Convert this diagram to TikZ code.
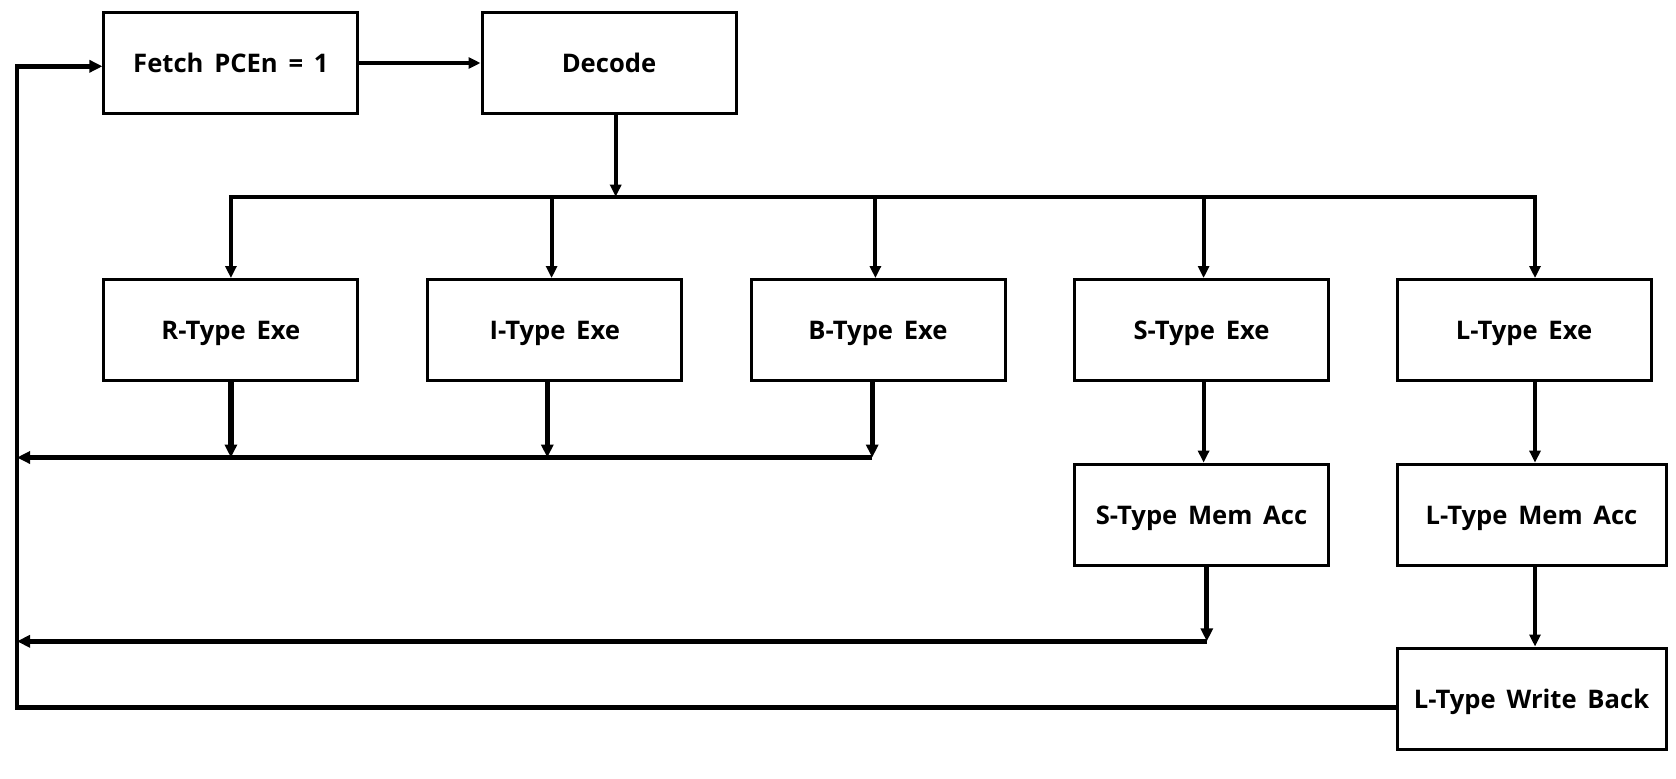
\documentclass[tikz,border=0pt]{standalone}
\usepackage{fontspec}
\setmainfont{Open Sans}[BoldFont={* Bold}]
\usetikzlibrary{arrows.meta,calc}
\newcommand{\boxfont}{\bfseries\fontsize{12.8}{15}\selectfont\spaceskip=0.42em plus 0.1em}
\begin{document}
\begin{tikzpicture}[x=0.5pt,y=-0.5pt,
  box/.style={draw,line width=1.5pt,minimum width=127pt,minimum height=50.5pt,inner sep=0pt,font=\boxfont,fill=white,text height=0.95em,text depth=0pt},
  wide/.style={box,minimum width=134.5pt},
  conn/.style={line width=2pt,-{Triangle[length=6pt,width=5.5pt]}},
  thick conn/.style={line width=2.6pt,-{Triangle[length=6.5pt,width=6pt]}},
  plain/.style={line width=2.2pt}]
\useasboundingbox (0,0) rectangle (1676,778);
% nodes
\node[box] (fetch) at (230.9,63) {Fetch PCEn = 1};
\node[box] (dec) at (609,63) {Decode};
\node[box] (r) at (230.9,330) {R-Type Exe};
\node[box] (i) at (554.8,330) {I-Type Exe};
\node[box] (b) at (878,330) {B-Type Exe};
\node[box] (s) at (1201.5,330) {S-Type Exe};
\node[box] (l) at (1524,330) {L-Type Exe};
\node[box] (smem) at (1201.5,514.6) {S-Type Mem Acc};
\node[wide] (lmem) at (1531.5,514.6) {L-Type Mem Acc};
\node[wide] (lwb) at (1531.5,698.5) {L-Type Write Back};
% coordinates
\coordinate (dsplit) at (615.7,196.7);
\coordinate (busL) at (230.9,196.7);
\coordinate (busR) at (1535,196.7);
\coordinate (ret1) at (17,457.5);
\coordinate (ret2) at (17,641.3);
\coordinate (loopB) at (17,707.6);
\coordinate (loopT) at (17,66.3);
% fetch -> decode
\draw[conn] (fetch.east) -- (dec.west);
% decode -> bus
\draw[conn] (dec.south -| dsplit) -- (dsplit);
\draw[plain] ([xshift=-1pt]busL) -- ([xshift=1pt]busR);
\foreach \x/\n in {230.9/r,551.6/i,875.4/b,1203.6/s,1535/l}{
  \draw[conn] (\x,196.7) -- (\x,196.7 |- \n.north);
}
% returns from R, I, B
\foreach \x/\n in {230.9/r,547.3/i,872.2/b}{
  \draw[thick conn] (\x,196.7 |- \n.south) -- (\x,457.5);
}
\draw[thick conn] (872.2,457.5) -- (ret1);
% S path
\draw[conn] (1203.6,380 |- s.south) -- (1203.6,380 |- smem.north);
\draw[thick conn] (1206.8,380 |- smem.south) -- (1206.8,641.3);
\draw[thick conn] (1206.8,641.3) -- (ret2);
% L path
\draw[conn] (1535,380 |- l.south) -- (1535,380 |- lmem.north);
\draw[conn] (1535,380 |- lmem.south) -- (1535,380 |- lwb.north);
% loop back
\draw[line width=2.2pt,-{Triangle[length=6.5pt,width=6pt]},line join=miter]
  (lwb.west |- loopB) -- (loopB) -- (loopT) -- (fetch.west |- loopT);
\end{tikzpicture}
\end{document}
